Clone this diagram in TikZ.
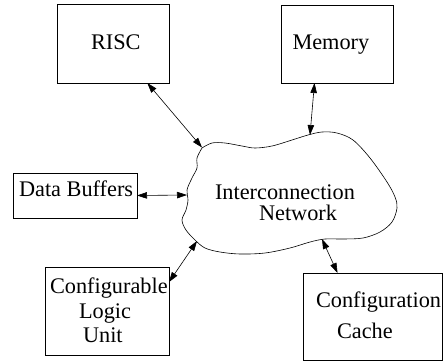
\documentclass[tikz,border=0pt]{standalone}
\usepackage{fontspec}
\setmainfont{Liberation Serif}
\usetikzlibrary{arrows.meta}
\begin{document}
\begin{tikzpicture}[x=1pt,y=-1pt,
  boxnode/.style={draw, line width=0.6pt, inner sep=0pt, outer sep=0pt},
  lbl/.style={anchor=base west, inner sep=0pt, outer sep=0pt, font=\fontsize{22.3}{26}\selectfont},
  link/.style={line width=0.6pt, {Triangle[length=10pt,width=6.5pt]}-{Triangle[length=10pt,width=6.5pt]}},
  cloudline/.style={line width=0.6pt}]
\useasboundingbox (0,0) rectangle (444,362);

% boxes
\node[boxnode, minimum width=112pt, minimum height=79pt] (risc) at (113,43.5) {};
\node[boxnode, minimum width=112pt, minimum height=78pt] (mem) at (337,44) {};
\node[boxnode, minimum width=124pt, minimum height=45pt] (db) at (75,195.5) {};
\node[boxnode, minimum width=124pt, minimum height=88pt] (clu) at (107,311) {};
\node[boxnode, minimum width=139.5pt, minimum height=87pt] (cc) at (372.75,316.5) {};

% texts
\node[lbl] (trisc) at (91,49) {RISC};
\node[lbl] (tmem) at (292.5,49) {Memory};
\node[lbl] (tdb) at (19,196) {Data Buffers};
\node[lbl] (tclu1) at (50,293) {Configurable};
\node[lbl] (tclu2) at (79,318) {Logic};
\node[lbl] (tclu3) at (83,342) {Unit};
\node[lbl] (tcc1) at (316,307) {Configuration};
\node[lbl] (tcc2) at (337,338) {Cache};
\node[lbl] (tnet1) at (215,199) {Interconnection};
\node[lbl] (tnet2) at (259,220) {Network};

% cloud (cusp at the top left, like the reference)
\draw[cloudline] plot[smooth, tension=0.55] coordinates {
  (202,148) (212,143) (225,143) (242,146) (255,148) (272,146) (292,140)
  (308,135) (322,132) (337,133) (353,140) (370,158) (387,182) (395,197)
  (397,208) (392,222) (380,232) (363,238) (343,239) (325,239) (310,242)
  (290,248) (265,253) (240,254) (220,252) (205,248) (195,240) (186,230)
  (182,220) (186,210) (188,200) (187,190) (192,178) (197,168) (197,158)
  (202,148)};

\coordinate (nrisc) at (202,147.5);
\coordinate (nmem) at (310,135);
\coordinate (ndb) at (187,195);
\coordinate (nclu) at (197,241);
\coordinate (ncc) at (322,239);

% connectors
\draw[link] (risc.-49) -- (nrisc);
\draw[link] (mem.-120) -- (nmem);
\draw[link] (db.0) -- (ndb);
\draw[link] (clu.25) -- (nclu);
\draw[link] (ncc) -- (cc.129);
\end{tikzpicture}
\end{document}
